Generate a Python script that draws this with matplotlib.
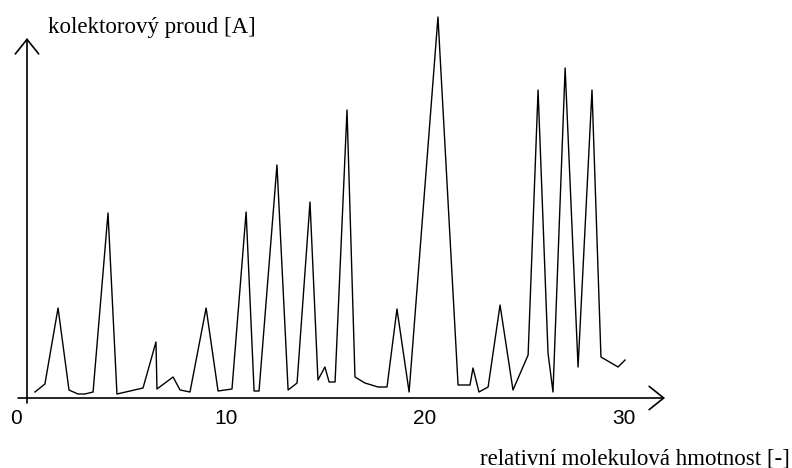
import matplotlib
matplotlib.use("Agg")
from matplotlib import pyplot as plt

# hmotnostni spektrum - odectene hodnoty (x = rel. molekulova hmotnost, y = proud, libovolne jednotky)
mass = [0.40, 0.90, 1.56, 2.11, 2.56, 2.91, 3.32, 4.07, 4.52, 5.18, 5.83, 6.48, 6.53,
        7.34, 7.69, 8.19, 9.00, 9.60, 10.30, 11.01, 11.41, 11.66, 12.56, 13.12, 13.57,
        14.22, 14.62, 14.97, 15.18, 15.48, 16.08, 16.48, 16.98, 17.64, 18.09, 18.59,
        19.20, 20.65, 21.66, 22.26, 22.41, 22.71, 23.17, 23.77, 24.42, 25.18, 25.68,
        26.18, 26.43, 27.04, 27.69, 28.39, 28.84, 29.70, 30.05]
current = [6, 14, 90, 8, 4, 4, 6, 185, 4, 7, 10, 56, 9,
           21, 8, 6, 90, 7, 9, 186, 7, 7, 233, 8, 15,
           196, 18, 31, 16, 16, 288, 21, 15, 11, 11, 89,
           6, 381, 13, 13, 30, 6, 11, 93, 8, 43, 308,
           45, 6, 330, 31, 308, 41, 31, 38]
tick_vals = [0, 10, 20, 30]
tick_labels = ["0", "10", "20", "30"]

fig = plt.figure(figsize=(7.92, 4.68), dpi=100)
ax = fig.add_axes([0, 0, 1, 1])
ax.set_xlim(-1.357, 38.44)
ax.set_ylim(-70, 398)
ax.axis("off")

ax.plot(mass, current, color="black", lw=1.0)

# osy se sipkami
arr = dict(arrowstyle="->, head_length=0.75, head_width=0.6", color="black",
           lw=1.2, shrinkA=0, shrinkB=0, mutation_scale=14)
ax.annotate("", xy=(32.06, 0), xytext=(-0.45, 0), arrowprops=arr)
ax.annotate("", xy=(0, 360), xytext=(0, -5), arrowprops=arr)

for v, lab in zip(tick_vals, tick_labels):
    xo = v - 0.55 if v == 0 else v
    ax.text(xo, -21, lab, ha="center", va="center", fontsize=15,
            family="Liberation Sans", stretch="condensed")

ax.text(1.06, 365, "kolektorový proud [A]", ha="left", va="baseline",
        fontsize=16.5, family="Liberation Serif")
ax.text(38.34, -66, "relativní molekulová hmotnost [-]", ha="right", va="baseline",
        fontsize=16.5, family="Liberation Serif")

fig.savefig("out.png", dpi=100)
